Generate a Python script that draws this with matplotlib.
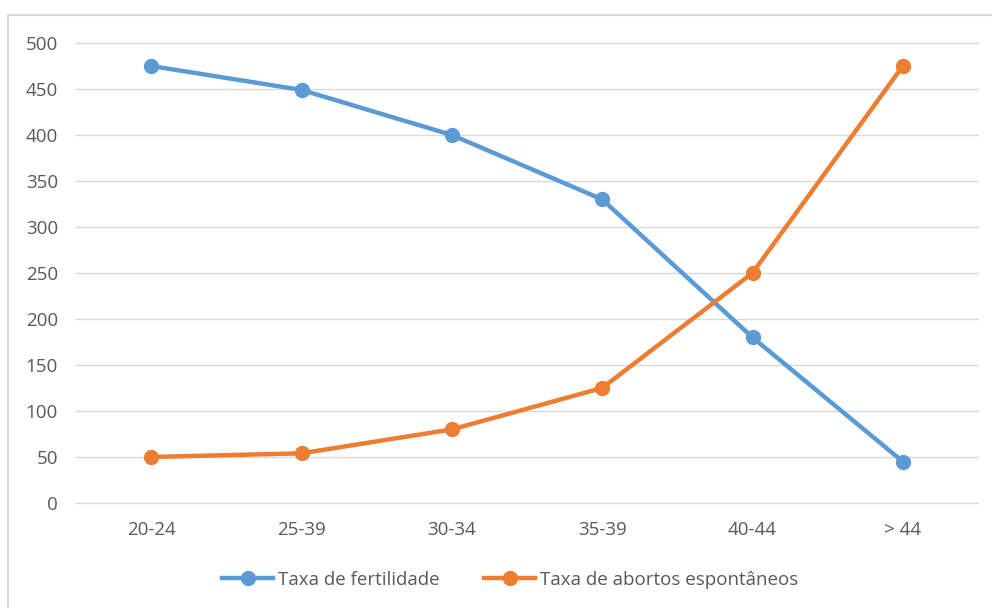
import numpy as np
import matplotlib
matplotlib.use("Agg")
import matplotlib.pyplot as plt
from matplotlib.patches import Rectangle
from matplotlib.lines import Line2D

# data
faixas = ["20-24", "25-39", "30-34", "35-39", "40-44", "> 44"]
fertilidade = [475, 449, 400, 330, 180, 45]
abortos = [50, 54, 80, 125, 250, 475]

cor_azul = "#5B9BD5"
cor_laranja = "#ED7D31"
cor_texto = "#595959"
cor_grade = "#D9D9D9"

plt.rcParams['font.family'] = ['Open Sans', 'DejaVu Sans']

fig = plt.figure(figsize=(9.92, 6.08), dpi=100)
# light chart-area border (cut off at right and bottom like the screenshot)
fig.patches.append(Rectangle((8 / 992, -0.1), 1.1, 1 - 15 / 608 + 0.1,
                             transform=fig.transFigure, fill=False,
                             edgecolor=cor_grade, linewidth=1.5))

ax = fig.add_axes([76 / 992, 105 / 608, 902 / 992, 460 / 608])
x = np.arange(len(faixas))

for serie, cor in [(fertilidade, cor_azul), (abortos, cor_laranja)]:
    ax.plot(x, serie, color=cor, linewidth=3.2, marker='o', markersize=10,
            solid_capstyle='round', solid_joinstyle='round', zorder=3)

ax.set_xlim(-0.5, len(faixas) - 0.5)
ax.set_ylim(0, 500)
ax.set_yticks(range(0, 501, 50))
ax.set_xticks(x)
ax.set_xticklabels(faixas)
ax.grid(axis='y', color=cor_grade, linewidth=1)
for gl in ax.get_ygridlines():
    gl.set_clip_on(False)
ax.set_axisbelow(True)
for s in ax.spines.values():
    s.set_visible(False)
ax.tick_params(length=0, labelsize=13.5, labelcolor=cor_texto)
ax.tick_params(axis='y', pad=13)
ax.tick_params(axis='x', pad=13)

handles = [
    Line2D([], [], color=cor_azul, linewidth=3.2, marker='o', markersize=10),
    Line2D([], [], color=cor_laranja, linewidth=3.2, marker='o', markersize=10),
]
fig.legend(handles, ["Taxa de fertilidade", "Taxa de abortos espontâneos"],
           loc='center', bbox_to_anchor=(510 / 992, 1 - 580 / 608), ncol=2,
           frameon=False, fontsize=13.5, labelcolor=cor_texto,
           handlelength=2.7, handletextpad=0.25, columnspacing=2.4)

fig.savefig("out.png", dpi=100)
